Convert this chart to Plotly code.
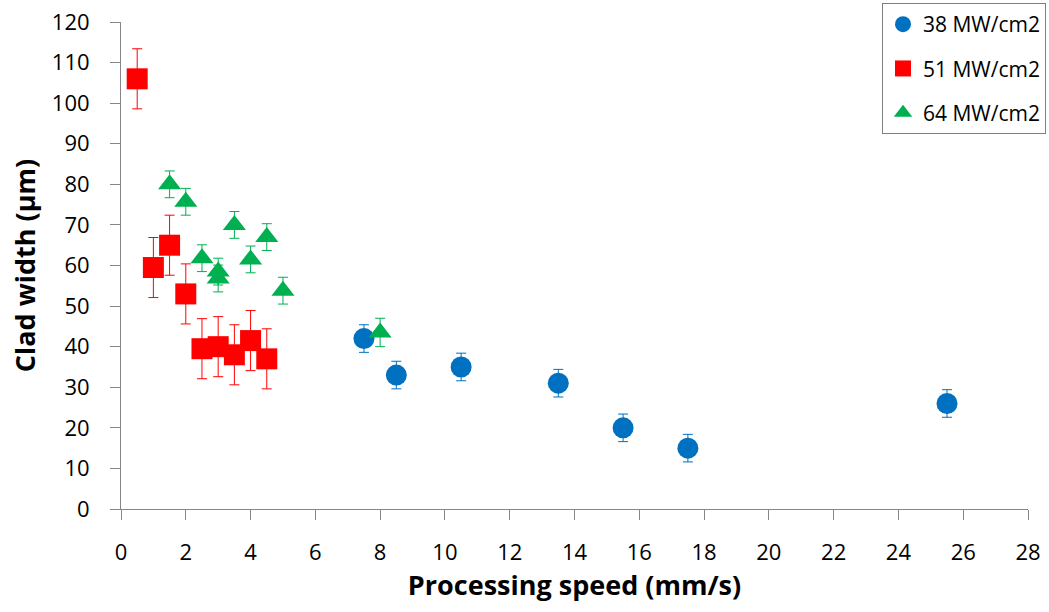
import plotly.graph_objects as go

# 38 MW/cm2
x38 = [7.5, 8.5, 10.5, 13.5, 15.5, 17.5, 25.5]
y38 = [42.0, 33.0, 35.0, 31.0, 20.0, 15.0, 26.0]
e38 = [3.4, 3.4, 3.4, 3.4, 3.4, 3.4, 3.4]

# 51 MW/cm2
x51 = [0.5, 1.0, 1.5, 2.0, 2.5, 3.0, 3.5, 4.0, 4.5]
y51 = [106.0, 59.5, 65.0, 53.0, 39.5, 40.0, 38.0, 41.5, 37.0]
e51 = [7.4, 7.4, 7.4, 7.4, 7.4, 7.4, 7.4, 7.4, 7.4]

# 64 MW/cm2
x64 = [1.5, 2.0, 2.5, 3.0, 3.0, 3.5, 4.0, 4.5, 5.0, 8.0]
y64 = [80.0, 75.7, 61.8, 58.5, 56.8, 70.0, 61.5, 67.0, 53.8, 43.5]
e64 = [3.3, 3.3, 3.3, 3.3, 3.3, 3.3, 3.3, 3.3, 3.3, 3.5]

xticks = list(range(0, 29, 2))
yticks = list(range(0, 121, 10))

FONT = "Open Sans"

fig = go.Figure()
series = [
    ("38 MW/cm2", x38, y38, e38, "#0070C0", "circle", 21),
    ("51 MW/cm2", x51, y51, e51, "#FF0000", "square", 21),
    ("64 MW/cm2", x64, y64, e64, "#00B050", "triangle-up", 20),
]
for name, xs, ys, es, col, sym, sz in series:
    fig.add_trace(go.Scatter(
        x=xs, y=ys, name=name, mode="markers", legendgroup=name,
        marker=dict(color=col, symbol=sym, size=sz, line=dict(width=0)),
        error_y=dict(type="data", array=es, visible=True, color=col,
                     thickness=1, width=5),
    ))

L, R, T, B = 121, 21, 22, 103
pw = 1049 - L - R
ph = 612 - T - B

fig.update_layout(
    width=1049, height=612,
    margin=dict(l=L, r=R, t=T, b=B, autoexpand=False),
    paper_bgcolor="white", plot_bgcolor="white",
    font=dict(family=FONT, color="black", size=22),
    showlegend=True,
    legend=dict(xref="paper", yref="paper",
                x=(1046 - L) / pw, y=(612 - B - 3) / ph,
                xanchor="right", yanchor="top",
                bgcolor="white", bordercolor="#7f7f7f", borderwidth=1,
                font=dict(family=FONT, size=21, color="black"),
                itemsizing="trace", traceorder="grouped", tracegroupgap=14),
    xaxis=dict(range=[0, 28], tickmode="array", tickvals=xticks,
               ticktext=[str(t) for t in xticks],
               showgrid=False, zeroline=False, showline=True,
               linecolor="#868686", linewidth=1,
               ticks="outside", ticklen=10, tickcolor="#868686",
               ticklabelstandoff=14,
               tickfont=dict(family=FONT, size=22),
               title=dict(text="<b>Processing speed (mm/s)</b>",
                          font=dict(family=FONT, size=27), standoff=10)),
    yaxis=dict(range=[0, 120], tickmode="array", tickvals=yticks,
               ticktext=[str(t) for t in yticks],
               showgrid=False, zeroline=False, showline=True,
               linecolor="#868686", linewidth=1,
               ticks="outside", ticklen=10, tickcolor="#868686",
               ticklabelstandoff=16,
               tickfont=dict(family=FONT, size=22),
               title=dict(text="<b>Clad width (µm)</b>",
                          font=dict(family=FONT, size=27), standoff=8)),
)

fig.write_html("out.html")
